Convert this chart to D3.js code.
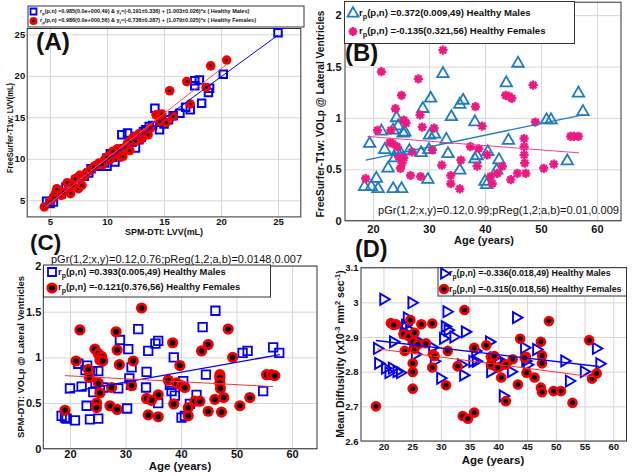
<!DOCTYPE html>
<html>
<head>
<meta charset="utf-8">
<script src="https://cdn.jsdelivr.net/npm/d3@7"></script>
<style>
  body { margin: 0; background: #fff; }
  svg { display: block; font-family: "Liberation Sans", Arial, sans-serif; }
</style>
</head>
<body>
<div id="chart"></div>
<script>
// ---- data ----
// (A) LVV: [SPM-DTI, FreeSurfer]
const lvvMales = [[4.7,4.9],[5.3,4.8],[5.0,4.6],[6.7,6.8],[6.4,6.6],[7.5,7.3],[8.4,8.3],[8.6,8.8],[9.2,9.1],[10.0,9.1],
  [10.0,10.1],[10.5,10.2],[10.7,9.6],[10.8,10.4],[11.3,12.9],[11.8,13.1],[12.5,11.3],[12.6,12.7],[13.2,13.3],[13.4,13.5],
  [14.2,16.1],[14.6,13.5],[15.0,14.2],[15.4,14.7],[16.4,15.5],[16.9,16.2],[17.3,15.9],[17.7,19.4],[18.1,19.5],[17.7,18.8],
  [18.3,16.7],[19.0,18.5],[18.9,18.0],[20.2,20.2],[25.0,25.2],[9.5,9.4],[11.0,11.0],[12.2,12.0],[8.0,7.9],[7.2,7.0],
  [6.0,5.8],[14.0,14.0],[13.0,12.6],[9.8,9.5],[11.5,11.2],[12.8,12.3],[15.8,15.2],[10.3,10.6],[13.7,13.9]];
const lvvFemales = [[4.5,4.2],[5.1,5.0],[5.3,5.4],[5.5,5.9],[5.6,6.4],[6.0,5.6],[6.2,6.0],[6.5,7.1],[6.8,5.8],[7.0,6.8],
  [7.4,7.7],[7.5,6.4],[7.6,8.0],[7.8,6.8],[8.0,7.9],[8.2,8.3],[8.5,8.6],[9.0,9.2],[9.3,9.5],[9.6,9.3],
  [9.8,9.9],[10.3,9.9],[10.6,10.5],[10.9,11.2],[11.0,11.1],[11.2,10.2],[11.4,10.3],[11.6,11.4],[11.8,11.9],[12.0,12.1],
  [12.0,11.0],[12.3,12.6],[12.6,12.7],[12.8,13.0],[13.0,12.4],[13.2,12.7],[13.4,13.1],[13.8,13.7],[14.3,15.3],[14.6,15.1],
  [14.8,15.4],[14.6,14.5],[15.2,14.4],[15.5,18.2],[15.8,15.1],[17.0,19.3],[17.3,16.6],[18.7,18.6],[19.1,21.2],[20.5,21.9],
  [10.0,10.2],[8.8,9.0],[12.5,12.1],[7.2,7.6],[13.6,12.9],[10.5,10.9]];
const lvvFitMales = [[4.7,4.52],[25.0,24.9]];
const lvvFitFemales = [[4.5,4.12],[20.5,21.38]];

// (B) FreeSurfer VOLp: [age, VOLp]
const fsMales = [[18.5,0.33],[19.4,0.75],[19.7,0.33],[20.6,0.41],[20.9,0.31],[22.1,0.69],[22.7,0.51],[21.5,0.87],[23.6,0.31],[25.1,0.31],
  [23.6,0.88],[24.2,1.00],[24.5,0.92],[25.7,0.86],[23.9,0.61],[24.3,0.67],[25.0,0.65],[28.6,0.66],[28.9,1.09],[30.3,1.19],
  [29.8,0.40],[30.1,0.83],[31.0,0.84],[30.0,0.69],[32.5,1.43],[33.1,0.79],[33.4,0.65],[34.0,1.01],[35.5,1.13],[36.1,1.17],
  [35.5,0.49],[38.2,0.96],[38.2,0.60],[38.6,0.63],[40.0,0.38],[40.3,0.35],[40.5,0.67],[42.5,0.59],[42.1,0.49],[43.8,1.34],
  [44.2,0.78],[45.9,1.53],[51.0,0.98],[51.8,0.98],[54.7,0.58],[56.7,1.24],[57.5,1.06],[26.5,0.68],[25.4,0.85]];
const fsFemales = [[18.7,0.41],[21.5,1.45],[20.8,0.88],[23.2,0.88],[24.0,1.09],[23.5,0.75],[24.3,0.72],[25.1,1.22],[25.5,0.98],[24.6,0.62],
  [24.9,0.51],[25.2,0.56],[25.5,0.61],[26.7,0.44],[27.0,0.67],[28.1,1.38],[28.4,1.03],[28.8,0.91],[28.5,0.43],[30.9,0.90],
  [30.6,0.69],[32.5,1.66],[32.3,0.54],[33.9,0.44],[33.9,0.36],[35.5,0.31],[35.7,0.59],[38.3,1.11],[39.5,0.92],[37.4,0.72],
  [38.9,0.70],[38.6,0.53],[40.4,0.64],[41.0,0.43],[41.3,0.36],[42.2,0.46],[43.1,0.53],[43.7,1.22],[44.3,1.21],[44.8,1.19],
  [44.6,0.40],[45.8,0.46],[47.0,0.80],[47.0,0.72],[47.0,0.64],[47.1,0.56],[47.3,0.46],[48.6,1.32],[49.0,0.96],[50.5,0.51],
  [52.3,0.55],[55.3,0.82],[55.9,0.82],[56.7,0.82],[25.9,0.95],[23.0,0.76]];
const fsFitMales = [[18.7,0.59],[57.5,1.03]];
const fsFitFemales = [[19.0,0.82],[56.8,0.66]];

// (C) SPM-DTI VOLp: [age, VOLp]
const spmMales = [[18.5,0.36],[19.1,0.34],[19.4,0.33],[20.0,0.66],[20.9,0.31],[21.5,0.93],[22.1,0.68],[23.0,0.47],[23.1,0.91],[23.6,0.32],
  [24.2,0.62],[24.6,0.72],[25.1,0.85],[25.4,0.64],[25.1,0.33],[28.7,0.66],[29.0,1.19],[30.5,1.09],[30.7,0.77],[31.1,0.89],
  [30.3,0.44],[32.3,1.31],[33.8,0.84],[33.7,0.67],[34.1,1.07],[35.4,1.15],[35.9,1.18],[35.9,0.50],[38.7,1.00],[38.3,0.63],
  [38.9,0.58],[40.4,0.74],[40.1,0.34],[40.7,0.36],[41.6,0.49],[42.8,0.59],[43.9,1.33],[44.5,0.81],[46.2,1.51],[51.1,1.05],
  [52.0,1.07],[54.8,0.63],[56.6,1.11],[57.7,1.05],[24.0,0.85],[26.0,0.67],[22.8,0.86],[31.0,0.70],[38.0,0.70]];
const spmFemales = [[19.1,0.42],[21.8,1.30],[21.1,0.96],[23.3,0.87],[23.5,0.78],[24.5,1.09],[25.1,1.04],[25.7,1.01],[25.4,0.97],[25.9,0.96],
  [25.1,0.72],[25.4,0.61],[24.8,0.50],[24.8,0.45],[27.2,0.47],[27.5,0.67],[28.3,1.28],[28.5,1.08],[28.9,0.92],[28.5,0.43],
  [31.1,0.69],[31.4,0.96],[32.9,1.54],[33.8,0.55],[34.7,0.53],[34.1,0.37],[35.9,0.35],[35.9,0.59],[37.7,0.75],[38.5,1.16],
  [38.7,0.49],[39.2,0.72],[39.8,0.91],[40.1,0.69],[40.7,0.67],[41.3,0.45],[41.3,0.36],[42.5,0.52],[43.4,0.52],[43.7,1.07],
  [44.9,1.14],[44.9,0.41],[46.1,0.54],[47.0,0.81],[47.0,0.78],[47.0,0.72],[47.1,0.66],[47.7,0.56],[47.3,0.40],[48.5,1.31],
  [49.3,1.00],[50.6,0.47],[52.4,0.56],[55.4,0.81],[56.3,0.81],[56.9,0.80]];
const spmFitMales = [[19.1,0.61],[57.8,1.03]];
const spmFitFemales = [[19.1,0.80],[56.6,0.68]];

// (D) Mean diffusivity: [age, MD]
const mdMales = [[18.9,2.867],[19.1,2.824],[20.0,3.009],[20.3,2.81],[20.9,2.797],[21.5,2.81],[21.7,2.886],[22.9,2.797],[22.3,2.80],[23.5,2.915],
  [23.8,2.934],[24.1,2.955],[24.9,2.999],[25.2,2.877],[25.8,2.89],[24.5,2.92],[25.5,2.85],[28.8,2.83],[28.5,2.87],[29.9,2.781],
  [30.4,2.896],[30.7,2.93],[31.0,2.973],[31.2,2.92],[32.2,2.90],[33.9,2.79],[34.2,2.915],[35.5,2.83],[36.0,2.86],[36.1,2.83],
  [38.4,2.886],[38.6,2.80],[39.2,2.84],[40.8,2.73],[41.0,2.82],[42.2,2.80],[43.1,2.956],[44.5,2.869],[44.7,2.831],[46.6,2.864],
  [45.0,2.82],[51.5,2.831],[52.3,2.773],[54.9,2.80],[57.0,2.867],[57.6,2.823],[26.5,2.88],[33.5,2.82],[40.0,2.835]];
const mdFemales = [[18.7,2.70],[21.3,2.94],[22.2,2.937],[23.5,2.908],[24.4,2.903],[23.7,2.86],[24.7,2.949],[25.4,2.912],[25.1,2.886],[25.4,2.866],
  [25.1,2.824],[25.1,2.799],[25.1,2.751],[26.6,2.937],[26.0,2.879],[27.4,2.882],[28.5,2.939],[28.6,2.85],[28.9,2.845],[28.5,2.812],
  [31.2,2.86],[30.9,2.761],[32.9,2.816],[34.1,2.978],[33.8,2.672],[34.7,2.664],[35.8,2.682],[35.8,2.869],[37.9,2.876],[38.7,2.843],
  [39.3,2.845],[38.7,2.821],[39.9,2.812],[40.5,2.783],[41.3,2.821],[41.3,2.715],[42.5,2.836],[43.4,2.763],[43.8,2.895],[44.8,2.843],
  [44.9,2.797],[46.3,2.783],[47.4,2.886],[47.6,2.847],[47.6,2.824],[47.4,2.754],[47.6,2.741],[48.8,2.946],[49.6,2.744],[50.9,2.744],
  [52.9,2.71],[55.8,2.891],[56.3,2.78],[57.1,2.795],[21.8,2.935],[44.6,2.84]];
const mdFitMales = [[18.7,2.89],[57.5,2.815]];
const mdFitFemales = [[18.9,2.866],[56.5,2.785]];

// tick values
const lvvTicks = [5, 10, 15, 20, 25];
const ageTicks = [20, 30, 40, 50, 60];
const volTicks = [0, 0.5, 1, 1.5, 2];
const mdAgeTicks = [20, 25, 30, 35, 40, 45, 50, 55, 60];
const mdTicks = [2.6, 2.7, 2.8, 2.9, 3, 3.1];

// legend texts: [text, isSubscript]
const legendA = [
  [["r",0],["p",1],["(p,n) =0.985(0.0e+000,49) & y",0],["f",1],["=(-0.191±0.336) + (1.003±0.026)*x ( Healthy Males)",0]],
  [["r",0],["p",1],["(p,n) =0.986(0.0e+000,56) & y",0],["f",1],["=(-0.736±0.287) + (1.079±0.025)*x ( Healthy Females)",0]]
];
const legendB = [
  [["r",0],["p",1],["(p,n) =0.372(0.009,49) Healthy Males",0]],
  [["r",0],["p",1],["(p,n) =-0.135(0.321,56) Healthy Females",0]]
];
const legendC = [
  [["r",0],["p",1],["(p,n) =0.393(0.005,49) Healthy Males",0]],
  [["r",0],["p",1],["(p,n) =-0.121(0.376,56) Healthy Females",0]]
];
const legendD = [
  [["r",0],["p",1],["(p,n) =-0.336(0.018,49) Healthy Males",0]],
  [["r",0],["p",1],["(p,n) =-0.315(0.018,56) Healthy Females",0]]
];

// ---- drawing ----
const svg = d3.select("#chart").append("svg").attr("width", 632).attr("height", 476);
const FONT = '"Liberation Sans", Arial, sans-serif';
const BLUE = "#0000f0", RED = "#f40000", MBLUE = "#1f7bc1", PINK = "#ec1a82";

// scales (frame edges)
const xA = d3.scaleLinear().domain([3, 27]).range([27.2, 300.8]);
const yA = d3.scaleLinear().domain([3, 25.7]).range([216.9, 28.5]);
const xB = d3.scaleLinear().domain([15, 64.3]).range([345, 621]);
const yB = d3.scaleLinear().domain([0, 2.126]).range([220.7, 2.2]);
const xC = d3.scaleLinear().domain([15.2, 64.5]).range([43.3, 317]);
const yC = d3.scaleLinear().domain([0, 2]).range([448.7, 266]);
const xD = d3.scaleLinear().domain([16.1, 62.3]).range([361, 626.5]);
const yD = d3.scaleLinear().domain([2.6, 3.1]).range([441, 267.7]);

function drawAxes(x, y, xTicks, yTicks, o) {
  const g = svg.append("g");
  const [l, r] = x.range();
  const [b, t] = y.range();
  const xa = g.append("g").attr("transform", `translate(0,${b})`)
    .call(d3.axisBottom(x).tickValues(xTicks).tickSize(-(b - t)).tickPadding(o.xPad).tickFormat(d3.format("")));
  const ya = g.append("g").attr("transform", `translate(${l},0)`)
    .call(d3.axisLeft(y).tickValues(yTicks).tickSize(-(r - l)).tickPadding(o.yPad).tickFormat(d3.format("")));
  [xa, ya].forEach(a => {
    a.select(".domain").remove();
    a.selectAll(".tick line").attr("stroke", "#d6d6d6");
    a.selectAll(".tick text").attr("fill", "#111")
      .style("font-size", o.tick + "px").style("font-weight", "bold").style("font-family", FONT);
  });
  g.append("rect").attr("x", l).attr("y", t).attr("width", r - l).attr("height", b - t)
    .attr("fill", "none").attr("stroke", "#333").attr("stroke-width", 1);
  return g;
}

function label(txt, x, y, size, opts = {}) {
  const t = svg.append("text").attr("x", x).attr("y", y)
    .attr("text-anchor", opts.anchor || "middle")
    .style("font-size", size + "px").style("font-weight", opts.weight || "bold").attr("fill", "#111");
  if (opts.rotate) t.attr("transform", `rotate(-90,${x},${y})`);
  if (opts.len) t.attr("textLength", opts.len).attr("lengthAdjust", "spacingAndGlyphs");
  t.text(txt);
  return t;
}

function richText(g, x, y, parts, size) {
  const t = g.append("text").attr("x", x).attr("y", y).attr("dy", "0.35em")
    .style("font-size", size + "px").style("font-weight", "bold").attr("fill", "#111");
  let prevSub = false;
  parts.forEach(([s, sub]) => {
    const sp = t.append("tspan").text(s);
    if (sub) sp.attr("dy", size * 0.3).style("font-size", (size * 0.75) + "px");
    else if (prevSub) sp.attr("dy", -size * 0.3);
    prevSub = !!sub;
  });
}

// marker makers
function squares(g, pts, x, y, side, color, sw) {
  g.selectAll(null).data(pts).enter().append("path")
    .attr("d", d3.symbol(d3.symbolSquare, side * side))
    .attr("transform", d => `translate(${x(d[0])},${y(d[1])})`)
    .attr("fill", "none").attr("stroke", color).attr("stroke-width", sw);
}
function dots(g, pts, x, y, r, ri) {
  const sel = g.selectAll(null).data(pts).enter().append("g")
    .attr("transform", d => `translate(${x(d[0])},${y(d[1])})`);
  sel.append("circle").attr("r", r).attr("fill", RED);
  sel.append("circle").attr("r", ri).attr("fill", "#000");
}
function triangles(g, pts, x, y, side, color, sw, rot) {
  g.selectAll(null).data(pts).enter().append("path")
    .attr("d", d3.symbol(d3.symbolTriangle, side * side * Math.sqrt(3) / 4))
    .attr("transform", d => `translate(${x(d[0])},${y(d[1])}) rotate(${rot})`)
    .attr("fill", "none").attr("stroke", color).attr("stroke-width", sw).attr("stroke-linejoin", "miter");
}
function asteriskPath(r) {
  const p = d3.path();
  for (let k = 0; k < 4; k++) {
    const a = k * Math.PI / 4;
    p.moveTo(-r * Math.cos(a), -r * Math.sin(a));
    p.lineTo(r * Math.cos(a), r * Math.sin(a));
  }
  return p.toString();
}
function asterisks(g, pts, x, y, r, color, sw) {
  g.selectAll(null).data(pts).enter().append("path")
    .attr("d", asteriskPath(r))
    .attr("transform", d => `translate(${x(d[0])},${y(d[1])})`)
    .attr("fill", "none").attr("stroke", color).attr("stroke-width", sw);
}
function fit(g, pts, x, y, color, sw) {
  g.append("path").datum(pts)
    .attr("d", d3.line().x(d => x(d[0])).y(d => y(d[1])))
    .attr("fill", "none").attr("stroke", color).attr("stroke-width", sw);
}
function legendBox(x0, y0, w, h) {
  const g = svg.append("g");
  g.append("rect").attr("x", x0).attr("y", y0).attr("width", w).attr("height", h)
    .attr("fill", "#fff").attr("stroke", "#333").attr("stroke-width", 1);
  return g;
}

// ---------- (A) ----------
drawAxes(xA, yA, lvvTicks, lvvTicks, {xPad: 1, yPad: 2, tick: 9.5});
const gA = svg.append("g");
squares(gA, lvvMales, xA, yA, 7.5, BLUE, 2);
dots(gA, lvvFemales, xA, yA, 4.8, 1.5);
fit(gA, lvvFitMales, xA, yA, BLUE, 1);
fit(gA, lvvFitFemales, xA, yA, "#ff5050", 1);
label("SPM-DTI: LVV(mL)", 164, 235, 8.5, {len: 78});
label("FreeSurfer-T1w: LVV(mL)", 13, 128, 8.5, {rotate: true, len: 90});
{
  const lg = legendBox(28, 6, 276, 21);
  lg.append("path").attr("d", d3.symbol(d3.symbolSquare, 36)).attr("transform", "translate(33.5,11.5)")
    .attr("fill", "none").attr("stroke", BLUE).attr("stroke-width", 1.8);
  lg.append("circle").attr("cx", 33.5).attr("cy", 21).attr("r", 4).attr("fill", RED);
  lg.append("circle").attr("cx", 33.5).attr("cy", 21).attr("r", 1.4).attr("fill", "#000");
  richText(lg, 40, 11.5, legendA[0], 5.5);
  richText(lg, 40, 20.5, legendA[1], 5.5);
}
label("(A)", 36, 50, 24.5, {anchor: "start"});

// ---------- (B) ----------
drawAxes(xB, yB, ageTicks, volTicks, {xPad: 4.5, yPad: 3.5, tick: 11});
const gB = svg.append("g");
triangles(gB, fsMales, xB, yB, 11.5, MBLUE, 1.8, 0);
asterisks(gB, fsFemales, xB, yB, 4.6, PINK, 2.4);
fit(gB, fsFitMales, xB, yB, MBLUE, 1.3);
fit(gB, fsFitFemales, xB, yB, "#f0409a", 1);
label("Age (years)", 484, 243.5, 11);
label("FreeSurfer-T1w: VOLp @ Lateral Ventricles", 324, 114, 10, {rotate: true, len: 207});
label("pGr(1,2;x,y)=0.12,0.99;pReg(1,2;a,b)=0.01,0.009", 619, 214, 10, {anchor: "end", weight: "normal", len: 241});
{
  const lg = legendBox(344.5, 1.5, 230, 42);
  lg.append("path").attr("d", d3.symbol(d3.symbolTriangle, 11 * 11 * Math.sqrt(3) / 4))
    .attr("transform", "translate(353,13.5)").attr("fill", "none").attr("stroke", MBLUE).attr("stroke-width", 1.8);
  lg.append("path").attr("d", asteriskPath(4.4)).attr("transform", "translate(353,31.5)")
    .attr("fill", "none").attr("stroke", PINK).attr("stroke-width", 2.4);
  richText(lg, 359, 13, legendB[0], 9.6);
  richText(lg, 359, 31, legendB[1], 9.6);
}
label("(B)", 345, 61, 24, {anchor: "start"});

// ---------- (C) ----------
drawAxes(xC, yC, ageTicks, volTicks, {xPad: 1.5, yPad: 2, tick: 11});
const gC = svg.append("g");
squares(gC, spmMales, xC, yC, 8.5, BLUE, 1.8);
dots(gC, spmFemales, xC, yC, 5.6, 2.8);
fit(gC, spmFitMales, xC, yC, BLUE, 1.3);
fit(gC, spmFitFemales, xC, yC, "#ff3030", 1);
label("Age (years)", 180, 470, 11.5);
label("SPM-DTI: VOLp @ Lateral Ventricles", 24, 357, 9.5, {rotate: true, len: 162});
label("pGr(1,2;x,y)=0.12,0.76;pReg(1,2;a,b)=0.0148,0.007", 51, 262.5, 10, {anchor: "start", weight: "normal", len: 251});
{
  const lg = legendBox(43.5, 265, 227, 32);
  lg.append("path").attr("d", d3.symbol(d3.symbolSquare, 64)).attr("transform", "translate(52,272)")
    .attr("fill", "none").attr("stroke", BLUE).attr("stroke-width", 1.8);
  lg.append("circle").attr("cx", 52).attr("cy", 288).attr("r", 5.6).attr("fill", RED);
  lg.append("circle").attr("cx", 52).attr("cy", 288).attr("r", 2.8).attr("fill", "#000");
  richText(lg, 58, 271.5, legendC[0], 9.4);
  richText(lg, 58, 287, legendC[1], 9.4);
}
label("(C)", 30, 250, 22.5, {anchor: "start"});

// ---------- (D) ----------
drawAxes(xD, yD, mdAgeTicks, mdTicks, {xPad: 2.5, yPad: 2.5, tick: 9.5});
const gD = svg.append("g");
triangles(gD, mdMales, xD, yD, 11, BLUE, 1.9, 90);
dots(gD, mdFemales, xD, yD, 5.3, 2.5);
fit(gD, mdFitMales, xD, yD, BLUE, 1.3);
fit(gD, mdFitFemales, xD, yD, "#ff3030", 1);
label("Age (years)", 493, 463.5, 11.5);
{
  const x = 344, y = 354;
  const t = svg.append("text").attr("x", x).attr("y", y).attr("text-anchor", "middle")
    .attr("transform", `rotate(-90,${x},${y})`).attr("fill", "#111")
    .style("font-size", "10.5px").style("font-weight", "bold");
  const parts = [["Mean Diffusivity (x10", 0], ["-3", 1], [" mm", 0], ["2", 1], [" sec", 0], ["-1", 1], [")", 0]];
  let prev = false;
  parts.forEach(([s, sup]) => {
    const sp = t.append("tspan").text(s);
    if (sup) sp.attr("dy", -4).style("font-size", "7.5px");
    else if (prev) sp.attr("dy", 4);
    prev = !!sup;
  });
}
{
  const lg = legendBox(438, 267.7, 188.5, 28.3);
  lg.append("path").attr("d", d3.symbol(d3.symbolTriangle, 10 * 10 * Math.sqrt(3) / 4))
    .attr("transform", "translate(444,273.5) rotate(90)").attr("fill", "none").attr("stroke", BLUE).attr("stroke-width", 1.9);
  lg.append("circle").attr("cx", 444).attr("cy", 289).attr("r", 5.3).attr("fill", RED);
  lg.append("circle").attr("cx", 444).attr("cy", 289).attr("r", 2.5).attr("fill", "#000");
  richText(lg, 449, 273.3, legendD[0], 8.9);
  richText(lg, 449, 288.7, legendD[1], 8.9);
}
label("(D)", 355, 257, 23.5, {anchor: "start"});
</script>
</body>
</html>
